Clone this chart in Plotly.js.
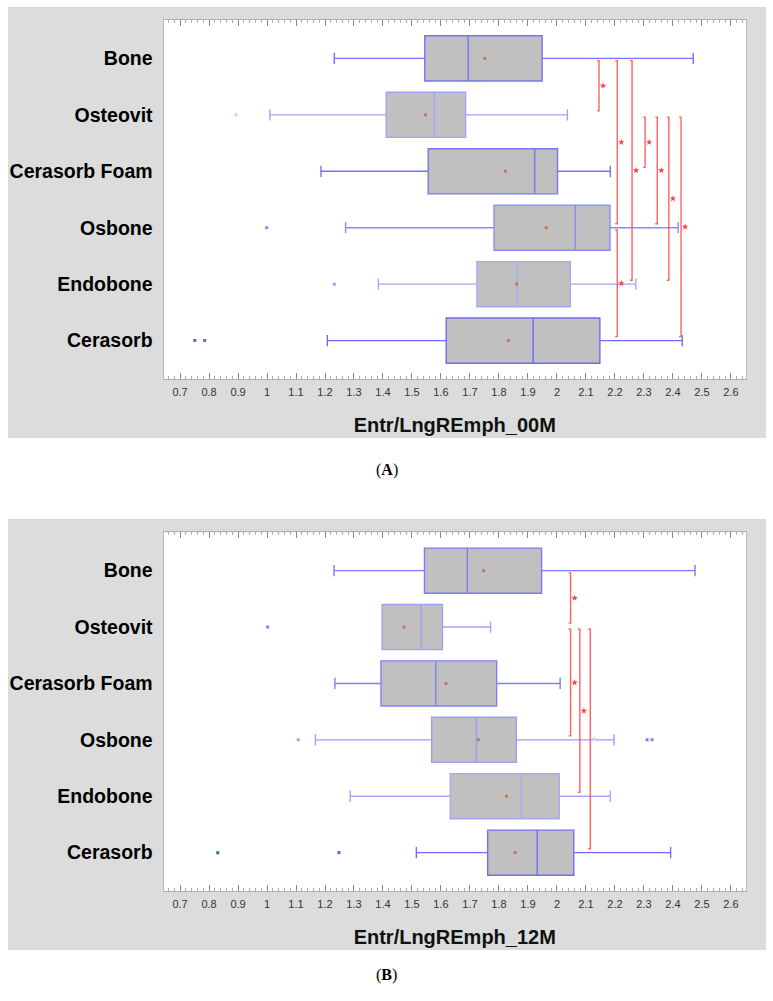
<!DOCTYPE html>
<html>
<head>
<meta charset="utf-8">
<script src="https://cdn.plot.ly/plotly-3.0.1.min.js"></script>
<style>html,body{margin:0;padding:0;background:#fff;}#chart{width:773px;height:1001px;}</style>
</head>
<body>
<div id="chart"></div>
<script>
// ---------- data ----------
var categories = ['Bone', 'Osteovit', 'Cerasorb Foam', 'Osbone', 'Endobone', 'Cerasorb'];
var xTickVals = [0.7,0.8,0.9,1,1.1,1.2,1.3,1.4,1.5,1.6,1.7,1.8,1.9,2,2.1,2.2,2.3,2.4,2.5,2.6];
var titleA = 'Entr/LngREmph_00M';
var titleB = 'Entr/LngREmph_12M';

// Panel A (00M)
var lowA    = [1.232, 1.010, 1.186, 1.271, 1.384, 1.208];
var q1A     = [1.544, 1.411, 1.556, 1.783, 1.724, 1.618];
var medA    = [1.694, 1.577, 1.923, 2.063, 1.863, 1.918];
var q3A     = [1.949, 1.685, 2.002, 2.183, 2.046, 2.148];
var highA   = [2.470, 2.036, 2.184, 2.418, 2.272, 2.432];
var meanA   = [1.751, 1.547, 1.822, 1.963, 1.861, 1.833];
var outA_val = [0.893, 0.999, 1.232, 0.751, 0.785];
var outA_cat = [1, 3, 4, 5, 5];
var bracketA_from = [0, 0, 0, 1, 1, 1, 1, 3];
var bracketA_to   = [1, 3, 4, 2, 3, 4, 5, 5];
var bracketA_x    = [2.145, 2.208, 2.259, 2.304, 2.346, 2.386, 2.428, 2.208];

// Panel B (12M)
var lowB    = [1.231, 1.397, 1.234, 1.167, 1.287, 1.515];
var q1B     = [1.543, 1.397, 1.393, 1.568, 1.632, 1.761];
var medB    = [1.691, 1.532, 1.582, 1.722, 1.877, 1.932];
var q3B     = [1.947, 1.605, 1.792, 1.860, 2.008, 2.058];
var highB   = [2.476, 1.771, 2.011, 2.197, 2.184, 2.392];
var meanB   = [1.747, 1.472, 1.617, 1.729, 1.826, 1.856];
var outB_val = [1.002, 1.108, 2.311, 2.328, 0.830, 1.248];
var outB_cat = [1, 3, 3, 3, 5, 5];
var bracketB_from = [0, 1, 1, 1];
var bracketB_to   = [1, 3, 4, 5];
var bracketB_x    = [2.047, 2.047, 2.079, 2.115];

// ---------- styles ----------
var boxLineA = ['#7474f4', '#a2a2f8', '#7676f2', '#8a8af6', '#a6a6fa', '#6c6cf4'];
var boxLineB = ['#7a7af4', '#a0a0f8', '#8080f4', '#9c9cf8', '#a8a8fa', '#7070f4'];
var outColA = ['#f0c8c0', '#8888f8', '#a0a0f8', '#6060f0', '#6060f0'];
var outColB = ['#8888f8', '#a0a0f8', '#8080f4', '#8080f4', '#208080', '#6060f0'];
var starColB = ['#ff4040', '#ff4040', '#ff4040', '#dcdcdc'];

var traces = [];
function addPanel(xa, ya, low, q1, med, q3, high, mean, lineCols, outVal, outCat, outCols,
                  bFrom, bTo, bX, starCols) {
  for (var i = 0; i < categories.length; i++) {
    traces.push({
      type: 'box', orientation: 'h', xaxis: xa, yaxis: ya,
      y: [i], q1: [q1[i]], median: [med[i]], q3: [q3[i]],
      lowerfence: [low[i]], upperfence: [high[i]],
      width: 0.8, whiskerwidth: 0.25, boxpoints: false,
      fillcolor: '#c0c0c0', line: {color: lineCols[i], width: 1.4},
      hoverinfo: 'skip', showlegend: false
    });
  }
  traces.push({
    type: 'scatter', mode: 'markers', xaxis: xa, yaxis: ya,
    x: mean, y: categories.map(function (c, i) { return i; }),
    marker: {size: 3, color: '#c87850', symbol: 'square'},
    hoverinfo: 'skip', showlegend: false
  });
  traces.push({
    type: 'scatter', mode: 'markers', xaxis: xa, yaxis: ya,
    x: outVal, y: outCat,
    marker: {size: 3, color: outCols, symbol: 'square'},
    hoverinfo: 'skip', showlegend: false
  });
  var bx = [], by = [], sx = [], sy = [];
  var tick = 0.007, topOff = 0.04, botOff = 0.07;
  for (var k = 0; k < bFrom.length; k++) {
    var yTop = bFrom[k] + topOff, yBot = bTo[k] - botOff;
    bx.push(bX[k] - tick, bX[k], bX[k], bX[k] - tick, null);
    by.push(yTop, yTop, yBot, yBot, null);
    sx.push(bX[k] + 0.014);
    sy.push((yTop + yBot) / 2);
  }
  traces.push({
    type: 'scatter', mode: 'lines', xaxis: xa, yaxis: ya,
    x: bx, y: by, connectgaps: false,
    line: {color: 'rgba(255,70,70,0.85)', width: 1.4},
    hoverinfo: 'skip', showlegend: false
  });
  traces.push({
    type: 'scatter', mode: 'markers', xaxis: xa, yaxis: ya,
    x: sx, y: sy,
    marker: {size: 5, color: starCols || '#ff4040', symbol: 'star'},
    hoverinfo: 'skip', showlegend: false
  });
}
addPanel('x', 'y', lowA, q1A, medA, q3A, highA, meanA, boxLineA, outA_val, outA_cat, outColA,
         bracketA_from, bracketA_to, bracketA_x, null);
addPanel('x2', 'y2', lowB, q1B, medB, q3B, highB, meanB, boxLineB, outB_val, outB_cat, outColB,
         bracketB_from, bracketB_to, bracketB_x, starColB);

var W = 773, H = 1001;
function px(v) { return v / W; }
function py(v) { return 1 - v / H; }
var plotL = 163.5, plotR = 746;
var aTop = 20, aBot = 379, bTop = 532.3, bBot = 891;

function xAxis(title, anchor) {
  return {
    anchor: anchor, domain: [px(plotL), px(plotR)], range: [0.643, 2.652],
    tickvals: xTickVals, ticks: 'inside', ticklen: 6, tickcolor: '#888', tickwidth: 1,
    minor: {dtick: 0.02, tick0: 0.7, ticks: 'inside', ticklen: 3, tickcolor: '#aaa', showgrid: false},
    showline: true, linecolor: '#b0b0b0', linewidth: 1, mirror: 'ticks',
    showgrid: false, zeroline: false,
    tickfont: {family: 'Liberation Sans, Arial, sans-serif', size: 11, color: '#333'},
    ticklabelstandoff: 3,
    title: {text: title, standoff: 20,
            font: {family: 'Liberation Sans, Arial, sans-serif', size: 20, color: '#111', weight: 'bold'}}
  };
}
function yAxis(anchor, d0, d1) {
  return {
    anchor: anchor, domain: [py(d1), py(d0)], range: [5.68, -0.68],
    tickvals: [0, 1, 2, 3, 4, 5], ticktext: categories, ticks: '',
    showline: true, linecolor: '#b8b8b8', linewidth: 1, mirror: true,
    showgrid: false, zeroline: false, ticklabelstandoff: 6,
    tickfont: {family: 'Liberation Sans, Arial, sans-serif', size: 19.5, color: '#000', weight: 'bold'}
  };
}
function rect(x0, x1, y0, y1, col) {
  return {type: 'rect', xref: 'paper', yref: 'paper', layer: 'below',
          x0: px(x0), x1: px(x1), y0: py(y1), y1: py(y0), fillcolor: col, line: {width: 0}};
}

var layout = {
  width: W, height: H,
  margin: {l: 0, r: 0, t: 0, b: 0},
  paper_bgcolor: '#ffffff', plot_bgcolor: '#ffffff',
  showlegend: false,
  xaxis: xAxis(titleA, 'y'),
  yaxis: yAxis('x', aTop, aBot),
  xaxis2: xAxis(titleB, 'y2'),
  yaxis2: yAxis('x2', bTop, bBot),
  shapes: [
    rect(8, 766, 7, 438, '#dcdcdc'),
    rect(8, 766, 519, 950, '#dcdcdc'),
    rect(plotL, plotR, aTop, aBot, '#ffffff'),
    rect(plotL, plotR, bTop, bBot, '#ffffff')
  ],
  annotations: [
    {xref: 'paper', yref: 'paper', x: px(386.5), y: py(470), text: '(<b>A</b>)', showarrow: false,
     font: {family: 'Liberation Serif, Times New Roman, serif', size: 16, color: '#000'}},
    {xref: 'paper', yref: 'paper', x: px(386.5), y: py(986), text: '(<b>B</b>)', showarrow: false,
     font: {family: 'Liberation Serif, Times New Roman, serif', size: 16, color: '#000'}}
  ]
};

Plotly.newPlot('chart', traces, layout, {displayModeBar: false, staticPlot: true});
</script>
</body>
</html>
